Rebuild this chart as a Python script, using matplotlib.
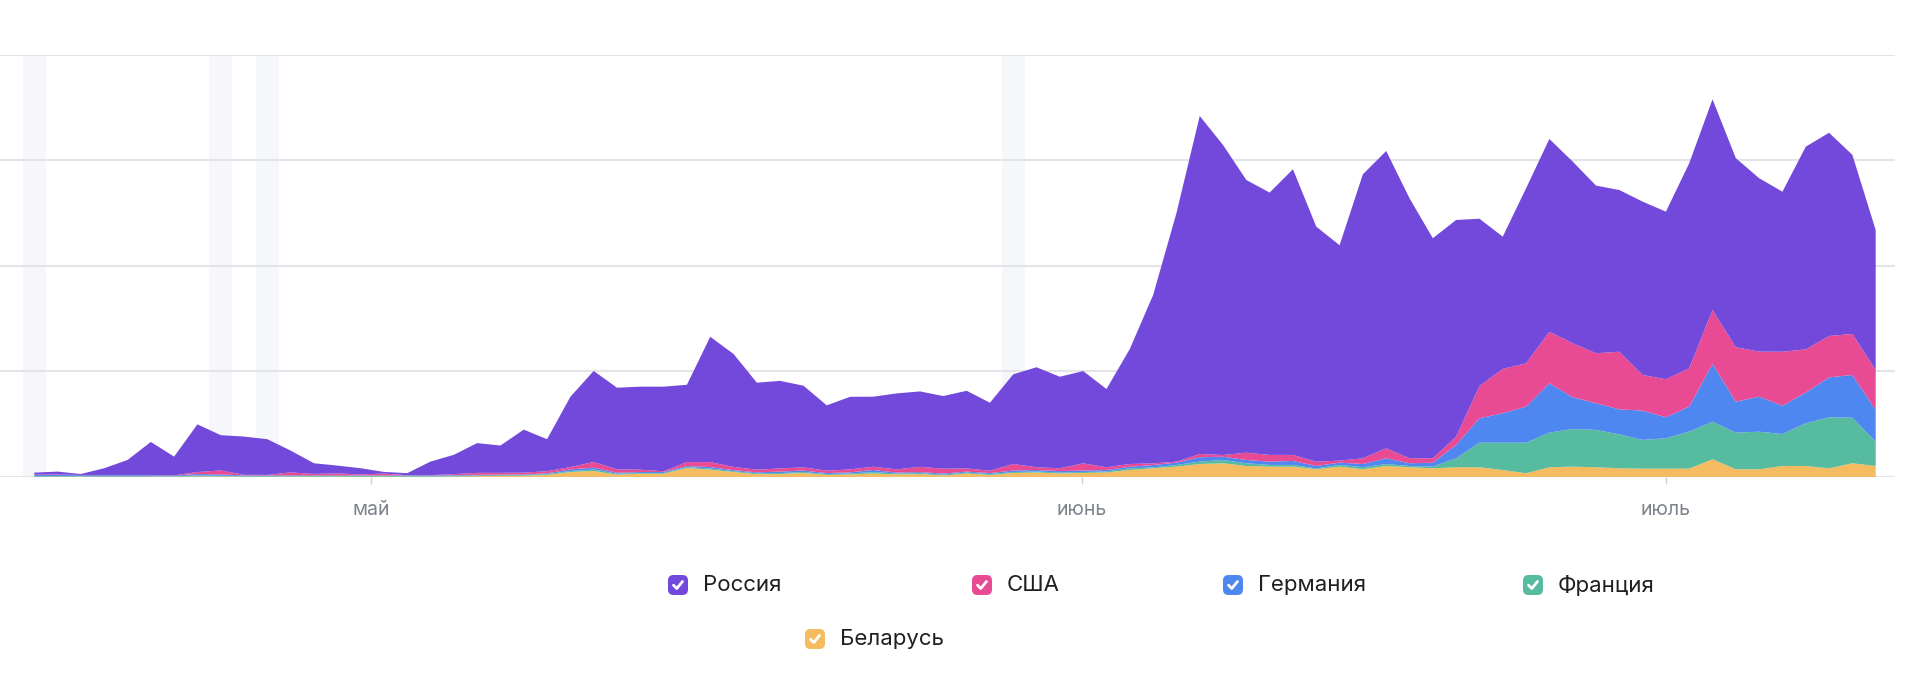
import matplotlib
matplotlib.use("Agg")
import matplotlib.pyplot as plt
from matplotlib.patches import FancyBboxPatch
import numpy as np

plt.rcParams['font.family'] = ['Inter', 'DejaVu Sans']

# daily values, stacked bottom -> top: Беларусь, Франция, Германия, США, Россия
russia = [1.7, 2.7, 0.9, 6.4, 14.2, 31.3, 17.8, 45.2, 33.4, 36.3,
          33.8, 20.7, 10.1, 7.4, 5.9, 1.6, 1.9, 12.9, 18.3, 28.2,
          25.9, 40.8, 30.3, 66.6, 86.3, 77.4, 78.7, 80.2, 73.3, 118.8,
          107.1, 82.5, 83.0, 77.4, 62.0, 68.8, 66.4, 72.0, 71.5, 68.9,
          73.6, 64.5, 85.0, 94.8, 86.8, 87.5, 74.2, 109.0, 159.5, 235.5,
          320.4, 293.9, 258.5, 248.7, 270.8, 222.8, 204.2, 269.2, 281.8, 246.5,
          208.6, 205.4, 158.6, 125.4, 165.9, 182.7, 172.2, 158.9, 153.3, 164.3,
          158.9, 194.3, 199.7, 179.2, 164.4, 151.7, 192.1, 192.7, 169.7, 132.7]
usa = [0.5, 0.5, 0.2, 0.2, 0.2, 0.2, 0.2, 1.9, 3.8, 0.5,
       0.5, 2.8, 1.4, 1.9, 0.9, 1.7, 0.2, 0.2, 0.9, 1.9,
       1.7, 1.7, 2.1, 2.2, 5.4, 3.2, 2.2, 0.7, 3.8, 4.7,
       3.1, 2.5, 3.0, 3.0, 2.2, 2.8, 3.1, 3.0, 5.0, 4.6,
       3.0, 2.2, 6.2, 2.6, 2.6, 6.8, 2.6, 2.6, 1.6, 0.9,
       3.1, 1.6, 6.9, 6.4, 5.7, 4.1, 1.9, 5.4, 9.5, 4.7,
       4.2, 7.9, 30.6, 42.0, 41.1, 48.9, 51.2, 47.4, 54.6, 33.8,
       36.0, 36.4, 51.2, 51.6, 42.7, 51.2, 41.1, 39.2, 38.9, 37.9]
germany = [1.1, 1.1, 0.9, 0.9, 0.9, 0.9, 0.5, 1.4, 1.2, 0.5,
           0.5, 0.5, 0.5, 0.5, 0.5, 0.5, 0.5, 0.5, 0.6, 0.5,
           0.5, 0.5, 0.7, 1.6, 1.7, 0.9, 0.9, 0.9, 0.9, 1.4,
           0.9, 0.9, 1.4, 1.4, 0.9, 1.1, 1.9, 0.9, 0.9, 0.9,
           0.9, 0.9, 1.4, 1.4, 1.4, 1.4, 1.4, 1.5, 2.2, 2.2,
           4.2, 3.1, 3.1, 3.1, 3.8, 2.2, 2.2, 3.1, 5.4, 2.6,
           3.8, 12.6, 23.1, 27.9, 34.1, 46.8, 30.1, 25.3, 23.7, 27.8,
           19.9, 23.7, 54.7, 29.4, 33.2, 26.8, 29.0, 37.9, 40.5, 30.1]
france = [0.5, 0.5, 0.5, 0.5, 0.5, 0.5, 0.5, 0.9, 0.7, 0.7,
          0.7, 0.7, 0.7, 0.7, 0.7, 0.7, 0.7, 0.7, 0.7, 0.7,
          0.7, 0.7, 0.8, 0.9, 1.4, 0.9, 0.7, 0.7, 0.9, 1.1,
          0.8, 0.9, 0.9, 0.9, 0.9, 0.9, 1.4, 0.9, 0.9, 0.9,
          0.9, 0.9, 0.9, 0.9, 0.9, 0.9, 0.9, 1.6, 0.9, 1.6,
          2.2, 3.1, 2.6, 1.6, 1.6, 0.9, 1.6, 1.9, 1.9, 1.2,
          1.5, 8.5, 23.3, 25.9, 29.0, 32.8, 35.7, 35.4, 32.2, 27.2,
          28.8, 35.1, 35.6, 34.7, 35.6, 30.3, 40.5, 48.3, 43.2, 23.0]
belarus = [0.3, 0.3, 0.3, 0.3, 0.3, 0.3, 0.3, 0.5, 0.5, 0.3,
           0.3, 0.3, 0.3, 0.3, 0.3, 0.3, 0.3, 0.3, 0.5, 0.8,
           1.0, 1.2, 1.9, 4.7, 5.7, 2.2, 3.1, 3.1, 8.5, 6.9,
           4.7, 2.6, 2.8, 3.8, 1.9, 2.4, 3.3, 2.4, 2.8, 1.4,
           3.3, 1.9, 3.8, 4.3, 3.3, 3.8, 4.3, 6.6, 8.2, 9.8,
           12.3, 13.0, 10.4, 9.8, 9.8, 7.3, 9.8, 7.3, 10.4, 9.2,
           8.2, 9.2, 9.2, 6.6, 3.5, 9.2, 9.8, 9.2, 8.2, 7.9,
           7.9, 7.9, 16.8, 7.3, 7.3, 10.4, 10.4, 8.2, 13.0, 10.4]

names = ["Россия", "США", "Германия", "Франция", "Беларусь"]
colors = ["#7349dc", "#e84a93", "#4f87f1", "#57bb9f", "#f5bb60"]

highlight_days = [0, 8, 10, 42]
month_pos = [14.44, 44.94, 70.0]
month_labels = ["май", "июнь", "июль"]

x = np.arange(len(russia))

fig = plt.figure(figsize=(19.2, 6.96), dpi=100)
ax = fig.add_axes([0, 0.3147, 0.987, 0.6063])

for d in highlight_days:
    ax.axvspan(d - 0.5, d + 0.5, color="#f5f7fb", lw=0, zorder=0)

ax.stackplot(x, belarus, france, germany, usa, russia,
             colors=colors[::-1], lw=0, zorder=2)

ax.set_xlim(-1.47, 79.83)
ax.set_ylim(0, 400)
ax.set_yticks([0, 100, 200, 300, 400])
ax.yaxis.grid(True, color="#e3e4e8", lw=1.5, zorder=1)
ax.tick_params(axis="y", left=False, labelleft=False)
ax.set_xticks(month_pos)
ax.set_xticklabels(month_labels)
ax.tick_params(axis="x", length=5, width=1, color="#c9ccd2", pad=12,
               labelsize=14, labelcolor="#7d828c")
for s in ax.spines.values():
    s.set_visible(False)

# legend drawn in pixel coords
leg = fig.add_axes([0, 0, 1, 1])
leg.set_xlim(0, 1920)
leg.set_ylim(696, 0)
leg.axis("off")
leg_pos = [(678, 585), (982, 585), (1233, 585), (1533, 585), (815, 639)]
for (mx, my), name, c in zip(leg_pos, names, colors):
    leg.add_patch(FancyBboxPatch((mx - 7.5, my - 7.5), 15, 15,
                                 boxstyle="round,pad=2.5,rounding_size=5.5",
                                 fc=c, ec="none"))
    leg.plot([mx - 4.5, mx - 1.2, mx + 4.5], [my + 0.2, my + 3.5, my - 3.5],
             color="white", lw=2, solid_capstyle="round", solid_joinstyle="round")
    leg.text(mx + 25, my, name, fontsize=16, color="#1f1f1f",
             va="center", ha="left")

fig.savefig("out.png", dpi=100)
